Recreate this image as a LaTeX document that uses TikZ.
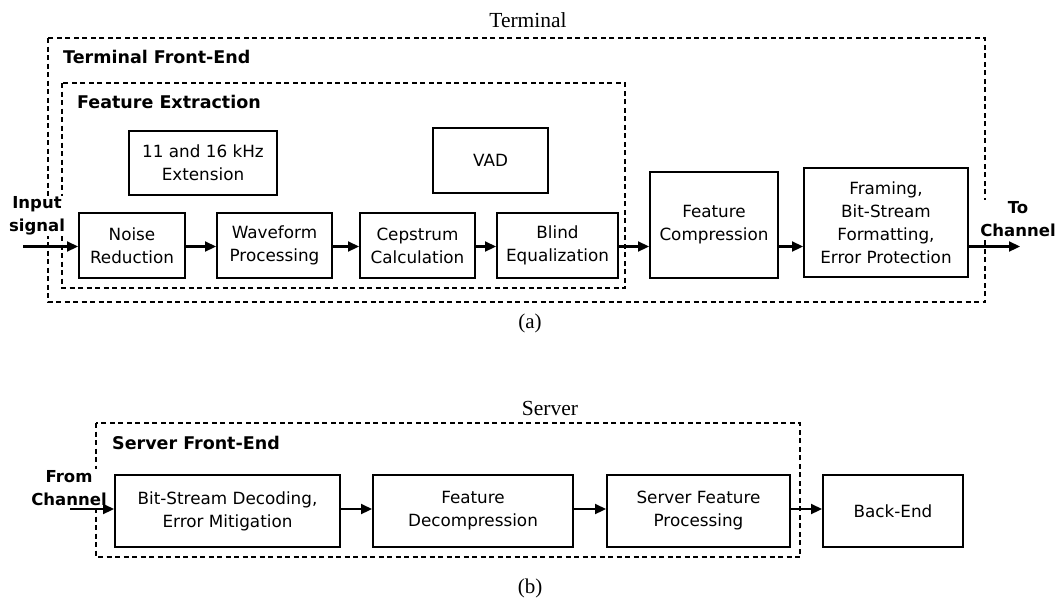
\documentclass[tikz,border=0pt]{standalone}
\usepackage{fontspec}
\setmainfont{Liberation Serif}
\setsansfont{DejaVu Sans}
\usetikzlibrary{arrows.meta}
\newfontfamily\boxfont{DejaVu Sans}
\begin{document}
\begin{tikzpicture}[x=1pt,y=-1pt,
  block/.style={draw,line width=2pt,align=center,inner sep=0pt,
    font=\boxfont\fontsize{16.8}{23}\selectfont},
  group/.style={draw,line width=1.6pt,dash pattern=on 5pt off 3.5pt},
  grouptitle/.style={anchor=west,inner sep=0pt,
    font=\boxfont\bfseries\fontsize{17.5}{20}\selectfont},
  iolabel/.style={fill=white,align=center,inner sep=1pt,
    font=\boxfont\bfseries\fontsize{16.5}{23}\selectfont},
  flow/.style={line width=2.2pt,-{Triangle[length=11pt,width=10pt]}},
  caption/.style={font=\fontsize{21.5}{25}\selectfont},
  sublabel/.style={font=\fontsize{21}{25}\selectfont}]
\useasboundingbox (0,0) rectangle (1060,600);

% ---------------- (a) Terminal ----------------
\node[caption] (term) at (528,20) {Terminal};
\draw[group] (48,38) rectangle (985,302);
\node[grouptitle] (tfe) at (63,57) {Terminal Front-End};
\draw[group] (62,83) rectangle (625,288);
\node[grouptitle] (fex) at (77,102) {Feature Extraction};

\node[block,minimum width=148pt,minimum height=64pt] (ext) at (203,163) {11 and 16 kHz\\Extension};
\node[block,minimum width=115pt,minimum height=65pt] (vad) at (490.5,160.5) {VAD};

\node[block,minimum width=106pt,minimum height=65pt] (noise) at (132,245.5) {Noise\\Reduction};
\node[block,minimum width=115pt,minimum height=65pt] (wave) at (274.5,245.5) {Waveform\\Processing};
\node[block,minimum width=115pt,minimum height=65pt] (ceps) at (417.5,245.5) {Cepstrum\\Calculation};
\node[block,minimum width=121pt,minimum height=65pt] (blind) at (557.5,245.5) {Blind\\Equalization};
\node[block,minimum width=128pt,minimum height=106pt] (comp) at (714,225) {Feature\\Compression};
\node[block,minimum width=164pt,minimum height=109pt] (frame) at (886,222.5) {Framing,\\Bit-Stream\\Formatting,\\Error Protection};

\node[iolabel] (insig) at (37,216) {Input\\signal};
\node[iolabel] (tochan) at (1018,219) {To\\Channel};

\coordinate (inA) at (23,246.5);
\coordinate (outA) at (1020,246.5);
\draw[flow] (inA) -- (inA -| noise.west);
\draw[flow] (noise.east |- inA) -- (wave.west |- inA);
\draw[flow] (wave.east |- inA) -- (ceps.west |- inA);
\draw[flow] (ceps.east |- inA) -- (blind.west |- inA);
\draw[flow] (blind.east |- inA) -- (comp.west |- inA);
\draw[flow] (comp.east |- inA) -- (frame.west |- inA);
\draw[flow] (frame.east |- inA) -- (outA);

\node[sublabel] (capa) at (530,323) {(a)};

% ---------------- (b) Server ----------------
\node[caption] (serv) at (550,408) {Server};
\draw[group] (96,423) rectangle (800,557);
\node[grouptitle] (sfe) at (112,443) {Server Front-End};

\node[block,minimum width=225pt,minimum height=72pt] (bsd) at (227.5,511) {Bit-Stream Decoding,\\Error Mitigation};
\node[block,minimum width=200pt,minimum height=72pt] (fdec) at (473,511) {Feature\\Decompression};
\node[block,minimum width=183pt,minimum height=72pt] (sfp) at (698.5,511) {Server Feature\\Processing};
\node[block,minimum width=140pt,minimum height=72pt] (back) at (893,511) {Back-End};

\node[iolabel] (fromchan) at (69,488) {From\\Channel};

\coordinate (inB) at (70,509);
\draw[flow] (inB) -- (inB -| bsd.west);
\draw[flow] (bsd.east |- inB) -- (fdec.west |- inB);
\draw[flow] (fdec.east |- inB) -- (sfp.west |- inB);
\draw[flow] (sfp.east |- inB) -- (back.west |- inB);

\node[sublabel] (capb) at (530,588) {(b)};
\end{tikzpicture}
\end{document}
